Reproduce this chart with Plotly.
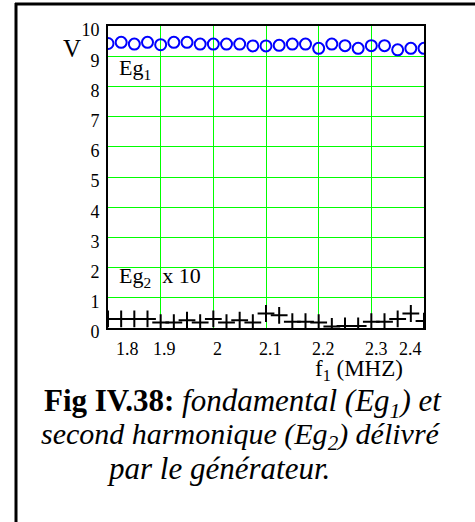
import plotly.graph_objects as go

# ---- data ----
freq = [1.8, 1.825, 1.85, 1.875, 1.9, 1.925, 1.95, 1.975, 2.0, 2.025, 2.05, 2.075,
        2.1, 2.125, 2.15, 2.175, 2.2, 2.225, 2.25, 2.275, 2.3, 2.325, 2.35, 2.375, 2.4]
eg1 = [9.42, 9.46, 9.40, 9.46, 9.38, 9.46, 9.46, 9.40, 9.40, 9.40, 9.40, 9.34, 9.34,
       9.36, 9.40, 9.40, 9.26, 9.40, 9.35, 9.26, 9.35, 9.35, 9.21, 9.26, 9.26]
eg2_x10 = [0.30, 0.30, 0.30, 0.30, 0.18, 0.18, 0.26, 0.18, 0.30, 0.18, 0.26, 0.18, 0.48,
           0.42, 0.21, 0.21, 0.18, 0.05, 0.07, 0.07, 0.21, 0.21, 0.30, 0.48, 0.23]
x_ticks = [1.8, 1.9, 2.0, 2.1, 2.2, 2.3, 2.4]
x_tick_text = ["1.8", "1.9", "2", "2.1", "2.2", "2.3", "2.4"]
x_tick_shift = [19, 4, 4, 4, 5, 5, -14]
y_ticks = [0, 1, 2, 3, 4, 5, 6, 7, 8, 9, 10]

FONT = "Liberation Serif, Times New Roman, Times, serif"
W, H = 475, 522
L, R, T, B = 108, 51, 26, 194
PW, PH = W - L - R, H - T - B


def px(xp):
    return (xp - L) / PW


def py(yp):
    return (T + PH - yp) / PH


fig = go.Figure()
fig.add_trace(go.Scatter(
    x=freq, y=eg1, mode="markers", name="Eg1",
    marker=dict(symbol="circle-open", size=11, color="#0000ff",
                line=dict(width=2, color="#0000ff")),
    cliponaxis=True))
fig.add_trace(go.Scatter(
    x=freq, y=eg2_x10, mode="markers", name="Eg2 x 10",
    marker=dict(symbol="cross-thin", size=12, color="black",
                line=dict(width=2, color="black")),
    cliponaxis=True))

shapes = [
    # white boxes behind the in-plot labels (cut the grid)
    dict(type="rect", xref="paper", yref="paper", x0=px(117), x1=px(177), y0=py(90), y1=py(52),
         fillcolor="white", line=dict(width=0), layer="between"),
    dict(type="rect", xref="paper", yref="paper", x0=px(117), x1=px(215), y0=py(301), y1=py(258),
         fillcolor="white", line=dict(width=0), layer="between"),
    # outer frame (top and left)
    dict(type="line", xref="paper", yref="paper", x0=px(15), x1=px(480), y0=py(4), y1=py(4),
         line=dict(color="black", width=3), layer="above"),
    dict(type="line", xref="paper", yref="paper", x0=px(16), x1=px(16), y0=py(3), y1=py(530),
         line=dict(color="black", width=3), layer="above"),
]

annotations = []
for v, t, s in zip(x_ticks, x_tick_text, x_tick_shift):
    annotations.append(dict(x=v, y=py(349), xref="x", yref="paper", text=t, showarrow=False,
                            xshift=s, xanchor="center", yanchor="middle",
                            font=dict(family=FONT, size=18, color="black")))

annotations += [
    dict(x=px(72), y=py(49), xref="paper", yref="paper", text="V", showarrow=False,
         xanchor="center", yanchor="middle", font=dict(family=FONT, size=25, color="black")),
    dict(x=px(117), y=py(69), xref="paper", yref="paper", text="Eg<sub>1</sub>", showarrow=False,
         xanchor="left", yanchor="middle", font=dict(family=FONT, size=22, color="black")),
    dict(x=px(117), y=py(277), xref="paper", yref="paper", text="Eg<sub>2</sub>&nbsp;&nbsp;x 10",
         showarrow=False, xanchor="left", yanchor="middle",
         font=dict(family=FONT, size=22, color="black")),
    dict(x=px(359), y=py(370), xref="paper", yref="paper", text="f<sub>1</sub> (MHZ)",
         showarrow=False, xanchor="center", yanchor="middle",
         font=dict(family=FONT, size=23, color="black")),
    dict(x=px(243), y=py(403), xref="paper", yref="paper",
         text="<b>Fig IV.38:</b> <i>fondamental (Eg<sub>1</sub>) et</i>",
         showarrow=False, xanchor="center", yanchor="middle",
         font=dict(family=FONT, size=31, color="black")),
    dict(x=px(241), y=py(436), xref="paper", yref="paper",
         text="<i>second harmonique (Eg<sub>2</sub>) délivré</i>",
         showarrow=False, xanchor="center", yanchor="middle",
         font=dict(family=FONT, size=30, color="black")),
    dict(x=px(218), y=py(468), xref="paper", yref="paper",
         text="<i>par le générateur.</i>",
         showarrow=False, xanchor="center", yanchor="middle",
         font=dict(family=FONT, size=31, color="black")),
]

fig.update_layout(
    width=W, height=H,
    margin=dict(l=L, r=R, t=T, b=B, pad=0),
    paper_bgcolor="white", plot_bgcolor="white",
    showlegend=False,
    shapes=shapes, annotations=annotations,
    font=dict(family=FONT, color="black"),
    xaxis=dict(range=[1.8, 2.4], tickvals=x_ticks, showticklabels=False,
               showgrid=True, gridcolor="#00ff00", gridwidth=1,
               showline=True, linecolor="black", linewidth=2, mirror=True,
               zeroline=False, ticks=""),
    yaxis=dict(range=[0, 10], tickvals=y_ticks, showgrid=True, gridcolor="#00ff00", gridwidth=1,
               showline=True, linecolor="black", linewidth=2, mirror=True,
               zeroline=False, ticks="", ticklabelshift=4, ticklabelstandoff=3,
               tickfont=dict(family=FONT, size=18, color="black")),
)

fig.write_html("out.html", config={"displayModeBar": False},
               post_script="document.body.style.margin='0';")
